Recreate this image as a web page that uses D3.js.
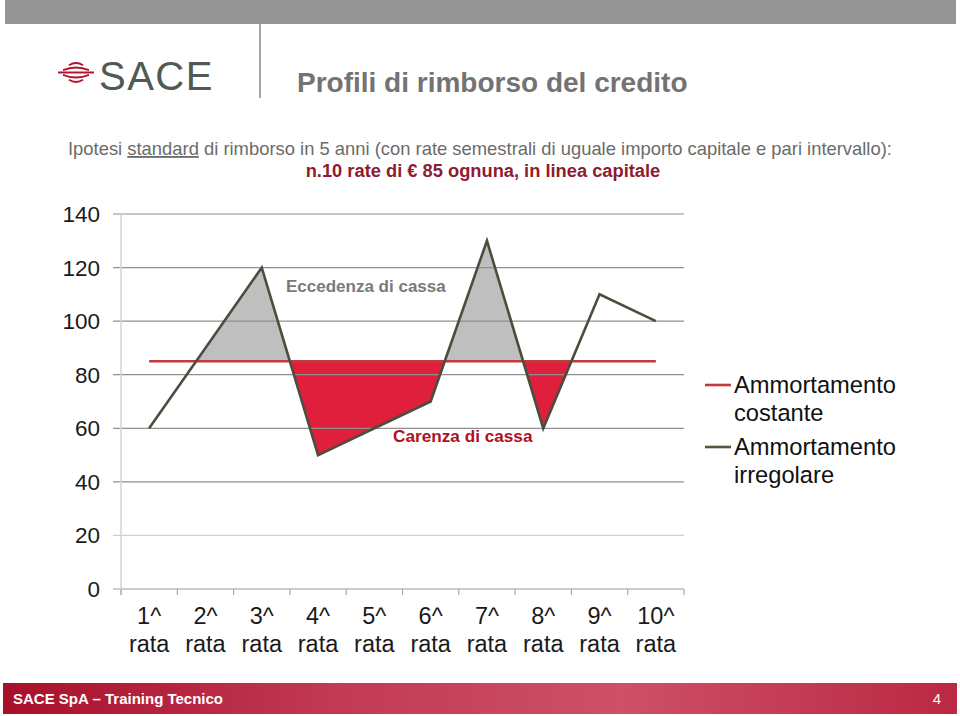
<!DOCTYPE html>
<html><head><meta charset="utf-8">
<script src="https://cdn.jsdelivr.net/npm/d3@7"></script>
<style>
body{margin:0;background:#fff;}
svg{display:block;font-family:"Liberation Sans",Arial,sans-serif;}
</style></head>
<body>
<svg id="c" width="960" height="716"></svg>
<script>
const categories = ["1^","2^","3^","4^","5^","6^","7^","8^","9^","10^"];
const irregolare = [60,90,120,50,60,70,130,60,110,100];
const costante = [85,85,85,85,85,85,85,85,85,85];
const yTicks = [0,20,40,60,80,100,120,140];
const seriesNames = ["Ammortamento costante","Ammortamento irregolare"];
const level = 85;

const svg = d3.select("#c");
const defs = svg.append("defs");

// header
svg.append("rect").attr("x",5).attr("y",0).attr("width",951).attr("height",24).attr("fill","#959595");
svg.append("line").attr("x1",260).attr("x2",260).attr("y1",24).attr("y2",98).attr("stroke","#8a8a8a").attr("stroke-width",1.5);

// logo symbol
const logo = svg.append("g").attr("fill","none").attr("stroke","#b3152e").attr("stroke-width",1.9).attr("stroke-linecap","butt");
const cx = 76, cy = 72.5;
[[7,-9.5,2.2],[13,-5,2.6]].forEach(([w,dy,h])=>{
  logo.append("path").attr("d",`M${cx-w},${cy+dy+h} Q${cx},${cy+dy-h} ${cx+w},${cy+dy+h}`);
  logo.append("path").attr("d",`M${cx-w},${cy-dy-h} Q${cx},${cy-dy+h} ${cx+w},${cy-dy-h}`);
});
logo.append("line").attr("x1",cx-18).attr("x2",cx+18).attr("y1",cy).attr("y2",cy);
svg.append("text").attr("x",99).attr("y",90).attr("font-size",40).attr("fill","#4f5a55").attr("letter-spacing",1.5).text("SACE");

svg.append("text").attr("x",297).attr("y",92).attr("font-size",28).attr("font-weight","bold").attr("fill","#737373").text("Profili di rimborso del credito");

const sub = svg.append("text").attr("x",68).attr("y",155).attr("font-size",18.4).attr("fill","#6b6b6b");
sub.append("tspan").text("Ipotesi ");
sub.append("tspan").attr("text-decoration","underline").text("standard");
sub.append("tspan").text(" di rimborso in 5 anni (con rate semestrali di uguale importo capitale e pari intervallo):");
svg.append("text").attr("x",483).attr("y",177).attr("text-anchor","middle").attr("font-size",18.3).attr("font-weight","bold").attr("fill","#8e1b2f").text("n.10 rate di € 85 ognuna, in linea capitale");

// scales
const x = d3.scaleBand().domain(categories).range([121,684]);
const y = d3.scaleLinear().domain([0,140]).range([589,214]);
const cxp = i => x(categories[i]) + x.bandwidth()/2;

// fill region between first and last crossing of level
const cross = [];
for (let i=0;i<irregolare.length-1;i++){
  const a=irregolare[i]-level, b=irregolare[i+1]-level;
  if (a*b<0){ const t=a/(a-b); cross.push({i,t,xv:cxp(i)+t*(cxp(i+1)-cxp(i))}); }
}
const first = cross[0], last = cross[cross.length-1];
const pts = [{px:first.xv,v:level}];
for (let i=first.i+1;i<=last.i;i++) pts.push({px:cxp(i),v:irregolare[i]});
pts.push({px:last.xv,v:level});
const area = d3.area().x(d=>d.px).y0(y(level)).y1(d=>y(d.v));
defs.append("clipPath").attr("id","above").append("rect").attr("x",0).attr("y",0).attr("width",960).attr("height",y(level));
defs.append("clipPath").attr("id","below").append("rect").attr("x",0).attr("y",y(level)).attr("width",960).attr("height",716);
svg.append("path").datum(pts).attr("d",area).attr("fill","#bfbfbf").attr("clip-path","url(#above)");
svg.append("path").datum(pts).attr("d",area).attr("fill","#e01f3d").attr("clip-path","url(#below)");

// grid
const grid = svg.append("g");
yTicks.forEach(t=>{
  grid.append("line").attr("x1",113).attr("x2",684).attr("y1",y(t)).attr("y2",y(t))
    .attr("stroke", t===20 ? "#d0d0d0" : (t===0 ? "#9a9a9a" : "#8f8f8f")).attr("stroke-width",1.2);
  svg.append("text").attr("x",100).attr("y",y(t)+8).attr("text-anchor","end").attr("font-size",22.5).attr("fill","#1a1a1a").text(t);
});
svg.append("line").attr("x1",121).attr("x2",121).attr("y1",214).attr("y2",595).attr("stroke","#d4d4d4").attr("stroke-width",1.5);
const bounds = categories.map(c=>x(c)).concat([x.range()[1]]);
bounds.forEach(b=>svg.append("line").attr("x1",b).attr("x2",b).attr("y1",589).attr("y2",595).attr("stroke","#a8a8a8").attr("stroke-width",1.2));
categories.forEach((c,i)=>{
  const t = svg.append("text").attr("text-anchor","middle").attr("font-size",23.5).attr("fill","#1a1a1a");
  t.append("tspan").attr("x",cxp(i)).attr("y",624).text(c);
  t.append("tspan").attr("x",cxp(i)).attr("y",652).text("rata");
});

// lines
const line = d3.line().x((d,i)=>cxp(i)).y(d=>y(d));
svg.append("path").datum(costante).attr("d",line).attr("fill","none").attr("stroke","#c23a3e").attr("stroke-width",2.6);
svg.append("path").datum(irregolare).attr("d",line).attr("fill","none").attr("stroke","#4d4d3e").attr("stroke-width",2.6).attr("stroke-linejoin","miter");

// annotations
svg.append("text").attr("x",286).attr("y",292).attr("font-size",17).attr("font-weight","bold").attr("fill","#7a7a7a").text("Eccedenza di cassa");
svg.append("text").attr("x",393).attr("y",442).attr("font-size",17.2).attr("font-weight","bold").attr("fill","#b3101e").text("Carenza di cassa");

// legend
const legColors = ["#c0393d","#55553f"];
const leg = [[385,393,421],[447,455,483]];
seriesNames.forEach((n,k)=>{
  svg.append("line").attr("x1",705).attr("x2",731).attr("y1",leg[k][0]).attr("y2",leg[k][0]).attr("stroke",legColors[k]).attr("stroke-width",2.6);
  const parts = n.split(" ");
  const t = svg.append("text").attr("font-size",23.7).attr("fill","#111");
  t.append("tspan").attr("x",734).attr("y",leg[k][1]).text(parts[0]);
  t.append("tspan").attr("x",734).attr("y",leg[k][2]).text(parts[1]);
});

// footer
const g = defs.append("linearGradient").attr("id","foot").attr("x1","0").attr("x2","1").attr("y1","0").attr("y2","0");
[["0%","#a80f2a"],["35%","#c23a55"],["65%","#cd5068"],["100%","#bb2842"]].forEach(([o,c])=>g.append("stop").attr("offset",o).attr("stop-color",c));
svg.append("rect").attr("x",3).attr("y",683).attr("width",954).attr("height",31).attr("fill","url(#foot)");
svg.append("text").attr("x",13).attr("y",704).attr("font-size",15).attr("font-weight","bold").attr("fill","#fff")
  .attr("font-family","'Liberation Sans Narrow','Arial Narrow',sans-serif").attr("font-stretch","condensed").text("SACE SpA – Training Tecnico");
svg.append("text").attr("x",941).attr("y",704).attr("text-anchor","end").attr("font-size",15).attr("fill","#fff").text("4");
</script>
</body></html>
